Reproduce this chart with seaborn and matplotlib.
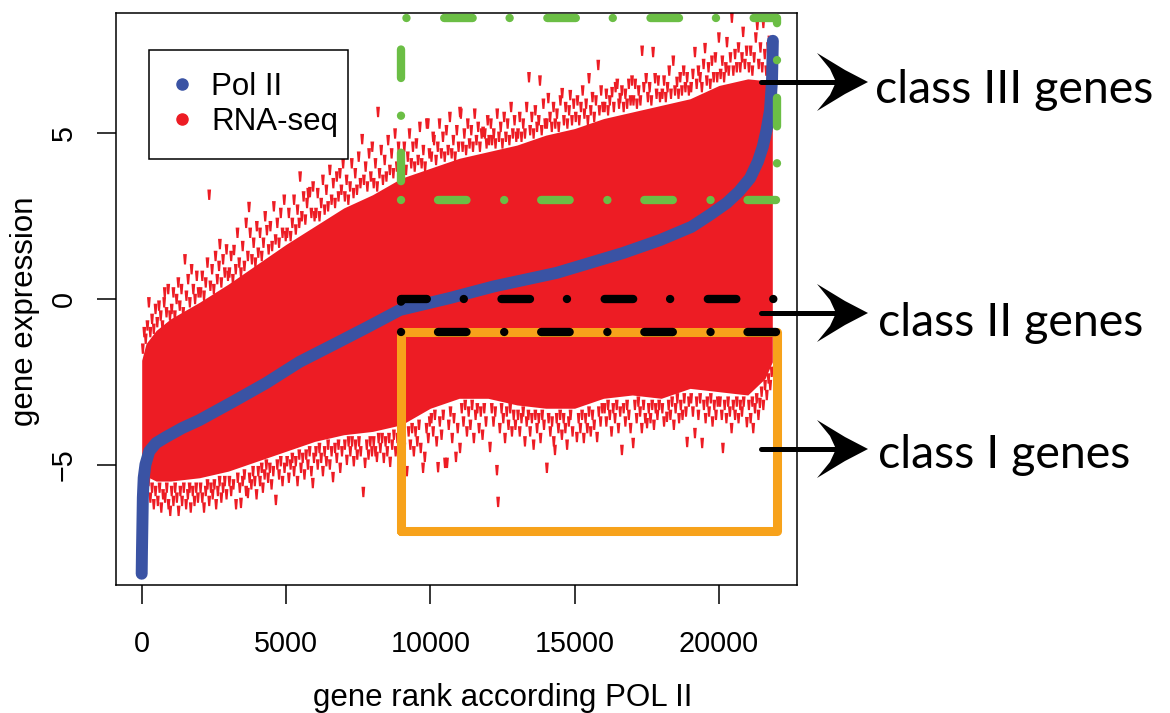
import matplotlib
matplotlib.use("Agg")
import matplotlib.pyplot as plt
import seaborn as sns
from matplotlib.lines import Line2D
from matplotlib.patches import Polygon
from matplotlib.path import Path

sns.set_style("white")
plt.rcParams['font.family'] = ['Liberation Sans', 'DejaVu Sans']
plt.rcParams['text.color'] = 'black'
plt.rcParams['axes.labelcolor'] = 'black'
plt.rcParams['xtick.color'] = 'black'
plt.rcParams['ytick.color'] = 'black'

RED = '#ED1C24'
BLUE = '#3A53A4'
GREEN = '#6BBE45'
ORANGE = '#F7A21B'

# Pol II signal, genes sorted by rank
pol_rank = [0, 10, 25, 40, 70, 130, 263, 500, 842, 1400, 2000, 3150, 4310, 5470,
            6640, 7800, 8950, 10680, 12200, 14380, 16680, 17960, 19050, 19700, 20270,
            20700, 21080, 21350, 21520, 21650, 21770, 21840, 21870]
pol_value = [-8.3, -7.6, -6.8, -6.0, -5.4, -5.0, -4.6, -4.35, -4.17, -3.9, -3.66,
             -3.11, -2.54, -1.9, -1.38, -0.86, -0.33, 0.03, 0.38, 0.79, 1.39, 1.78,
             2.18, 2.55, 2.9, 3.25, 3.65, 4.15, 4.6, 5.1, 5.7, 6.6, 7.8]

# dense core of the RNA-seq cloud (upper / lower envelope)
core_rank = [0, 150, 500, 1000, 2000, 3000, 4000, 5000, 6000, 7000, 8000, 9000,
             10000, 11000, 12000, 13000, 14000, 15000, 16000, 17000, 18000, 19000,
             20000, 21000, 21600, 21850]
core_hi = [-1.85, -1.35, -0.95, -0.6, -0.1, 0.45, 1.05, 1.65, 2.2, 2.75, 3.15, 3.65,
           3.95, 4.25, 4.45, 4.65, 4.95, 5.15, 5.45, 5.65, 5.85, 6.05, 6.45, 6.65,
           6.6, 6.3]
core_lo = [-5.0, -5.35, -5.5, -5.5, -5.4, -5.2, -4.9, -4.6, -4.3, -4.1, -4.0, -3.8,
           -3.3, -3.0, -3.0, -3.2, -3.3, -3.3, -3.0, -2.9, -3.0, -2.7, -2.8, -2.9,
           -2.4, -1.9]

# scattered RNA-seq genes above the core (rank, expression)
rna_upper = [
    (40, -1.5), (90, -1.0), (140, -1.2), (200, -0.8), (250, -0.1), (300, -1.0), (360, -0.6),
    (420, -0.9), (480, -0.3), (540, -0.7), (600, -0.2), (660, -0.5), (720, -0.8), (780, -0.1),
    (800, 0.2), (860, -0.4), (920, 0.3), (980, -0.5),
    (1040, -0.3), (1100, 0.2), (1150, -0.5), (1210, 0.0), (1270, 0.5), (1320, -0.2), (1380, 0.3),
    (1440, -0.4), (1500, 1.2), (1550, 0.1), (1610, 0.6), (1670, -0.1), (1730, 0.9), (1790, 0.3),
    (1850, 0.0), (1910, 0.7), (1970, 0.2),
    (2040, 0.2), (2100, 0.7), (2160, 0.1), (2220, 0.5), (2280, 1.1), (2340, 3.15), (2380, 0.4),
    (2440, 0.9), (2500, 0.3), (2560, 1.3), (2620, 0.6), (2680, 1.0), (2710, 1.66), (2760, 0.5),
    (2820, 1.2), (2880, 0.8), (2940, 1.5), (2990, 0.7),
    (3040, 0.8), (3100, 1.3), (3160, 0.6), (3200, 1.48), (3260, 0.9), (3320, 2.0), (3380, 1.1),
    (3440, 0.8), (3500, 1.6), (3560, 1.0), (3620, 2.3), (3680, 1.3), (3720, 2.78), (3760, 2.0),
    (3820, 1.2), (3880, 1.7), (3940, 1.1), (3990, 2.2),
    (4040, 1.4), (4100, 2.0), (4160, 1.3), (4220, 1.7), (4280, 2.5), (4340, 2.08), (4400, 1.5),
    (4460, 2.2), (4520, 1.6), (4580, 2.8), (4640, 1.8), (4700, 2.3), (4760, 1.7), (4820, 2.6),
    (4880, 2.0), (4940, 3.0), (4990, 1.9),
    (5040, 2.0), (5100, 2.6), (5160, 1.9), (5220, 2.3), (5280, 3.0), (5340, 2.1), (5400, 2.7),
    (5460, 2.3), (5490, 3.7), (5550, 2.5), (5610, 3.1), (5670, 2.4), (5730, 2.9), (5770, 3.2),
    (5830, 3.23), (5880, 2.6), (5940, 3.4), (5990, 2.5),
    (6040, 2.6), (6100, 3.2), (6160, 2.5), (6220, 2.9), (6280, 3.6), (6340, 2.7), (6400, 3.3),
    (6460, 2.8), (6520, 3.9), (6580, 3.0), (6640, 3.5), (6700, 2.9), (6760, 3.7), (6820, 3.1),
    (6870, 3.8), (6920, 3.3), (6980, 4.1),
    (7040, 3.1), (7100, 3.6), (7160, 3.0), (7220, 3.4), (7280, 4.1), (7340, 3.2), (7400, 3.8),
    (7460, 3.3), (7520, 4.3), (7580, 3.5), (7640, 4.83), (7700, 3.6), (7760, 4.0), (7820, 3.4),
    (7880, 4.4), (7940, 3.7), (7990, 4.6),
    (8040, 3.5), (8100, 4.1), (8160, 3.4), (8190, 5.65), (8240, 3.8), (8300, 4.5), (8360, 3.6),
    (8420, 4.2), (8480, 3.7), (8540, 4.8), (8600, 3.9), (8660, 4.4), (8720, 3.8), (8780, 5.0),
    (8840, 4.0), (8900, 4.6), (8960, 4.0),
    (9040, 4.0), (9100, 4.6), (9160, 3.9), (9220, 4.3), (9280, 5.0), (9340, 4.1), (9400, 4.6),
    (9460, 4.0), (9520, 4.7), (9580, 4.2), (9640, 5.2), (9700, 4.1), (9760, 4.5), (9820, 4.0),
    (9880, 5.3), (9920, 5.3), (9970, 4.4),
    (10040, 4.3), (10100, 4.9), (10130, 4.8), (10200, 4.2), (10260, 4.6), (10320, 5.3),
    (10380, 4.4), (10440, 4.9), (10500, 4.3), (10560, 5.1), (10620, 4.5), (10680, 5.5),
    (10740, 4.4), (10800, 4.8), (10860, 4.3), (10920, 5.1), (10980, 4.6),
    (11030, 5.65), (11060, 5.6), (11120, 4.6), (11180, 5.0), (11240, 4.5), (11300, 5.3),
    (11360, 4.7), (11420, 5.1), (11480, 4.6), (11540, 5.6), (11600, 4.8), (11660, 5.2),
    (11720, 4.6), (11780, 5.0), (11830, 5.05), (11890, 5.0), (11950, 4.7), (11990, 5.4),
    (12040, 4.8), (12100, 5.3), (12140, 4.8), (12200, 5.0), (12260, 4.7), (12320, 5.6),
    (12380, 4.9), (12440, 5.2), (12500, 4.7), (12560, 5.5), (12620, 4.9), (12680, 5.3),
    (12740, 4.8), (12800, 5.8), (12860, 5.0), (12920, 5.4), (12980, 4.9),
    (13040, 5.0), (13100, 5.5), (13160, 4.9), (13220, 5.3), (13280, 5.0), (13340, 5.8),
    (13420, 6.7), (13460, 5.1), (13520, 5.5), (13580, 5.0), (13640, 5.7), (13700, 5.2),
    (13760, 5.4), (13800, 6.6), (13860, 5.1), (13920, 5.9), (13980, 5.3),
    (14040, 5.3), (14090, 6.07), (14150, 5.5), (14210, 5.2), (14270, 5.8), (14330, 5.3),
    (14390, 5.6), (14450, 5.2), (14510, 6.0), (14570, 6.22), (14630, 5.4), (14690, 5.8),
    (14750, 5.3), (14810, 5.7), (14850, 6.16), (14910, 5.4), (14970, 5.9),
    (15040, 5.5), (15100, 6.0), (15160, 5.4), (15220, 5.8), (15280, 6.3), (15340, 5.6),
    (15400, 5.9), (15460, 5.4), (15500, 6.67), (15560, 5.7), (15620, 6.1), (15680, 5.5),
    (15740, 6.0), (15820, 7.07), (15860, 5.7), (15920, 6.3), (15980, 5.8),
    (16040, 5.8), (16100, 6.2), (16160, 5.7), (16220, 6.0), (16300, 6.25), (16360, 5.8),
    (16420, 6.4), (16480, 6.5), (16540, 5.9), (16580, 6.07), (16640, 6.3), (16700, 5.8),
    (16760, 6.2), (16820, 5.9), (16880, 6.5), (16940, 6.0), (16990, 6.6),
    (17040, 6.0), (17100, 6.5), (17160, 5.9), (17220, 6.3), (17280, 6.0), (17340, 7.5),
    (17400, 6.4), (17480, 6.67), (17540, 6.1), (17600, 6.4), (17660, 6.0), (17720, 7.46),
    (17790, 6.67), (17840, 6.2), (17900, 6.6), (17960, 6.1),
    (18040, 6.2), (18100, 6.6), (18160, 6.1), (18220, 6.4), (18280, 6.9), (18340, 6.2),
    (18420, 7.2), (18480, 6.3), (18550, 6.56), (18600, 6.2), (18660, 6.7), (18720, 6.3),
    (18780, 6.9), (18840, 6.4), (18900, 6.7), (18960, 6.3),
    (19040, 6.4), (19100, 6.8), (19170, 7.46), (19230, 6.5), (19290, 6.9), (19350, 6.7),
    (19410, 6.4), (19470, 7.1), (19520, 7.58), (19580, 6.6), (19640, 7.0), (19700, 6.5),
    (19760, 7.2), (19820, 6.7), (19880, 7.3), (19940, 6.7),
    (20000, 7.9), (20060, 6.8), (20120, 7.2), (20180, 6.7), (20240, 7.0), (20280, 7.76),
    (20340, 6.9), (20400, 7.3), (20450, 8.5), (20500, 6.9), (20560, 7.4), (20620, 7.0),
    (20680, 7.6), (20740, 7.0), (20800, 7.3), (20840, 8.07), (20900, 7.1), (20960, 7.5),
    (21040, 7.0), (21100, 7.5), (21160, 6.9), (21220, 7.3), (21280, 7.9), (21330, 8.28),
    (21380, 7.1), (21440, 7.6), (21500, 7.0), (21540, 8.34), (21590, 7.4), (21640, 6.9),
    (21700, 7.6), (21750, 7.8), (21800, 6.9), (21840, 7.3),
]

# scattered RNA-seq genes below the core (rank, expression)
rna_lower = [
    (60, -5.4), (120, -5.7), (180, -5.9), (240, -5.5), (300, -6.0), (360, -5.7), (420, -6.2),
    (480, -5.8), (560, -6.1), (620, -5.7), (680, -6.3), (740, -5.9), (810, -6.0), (870, -5.7),
    (930, -6.2), (990, -6.4),
    (1040, -5.8), (1100, -6.1), (1160, -5.7), (1220, -6.0), (1280, -6.4), (1340, -5.8),
    (1400, -6.1), (1460, -5.7), (1540, -6.2), (1600, -5.9), (1660, -5.7), (1700, -6.3),
    (1770, -5.8), (1830, -6.1), (1890, -5.7), (1950, -6.0),
    (2040, -5.7), (2100, -6.0), (2160, -6.3), (2220, -5.8), (2280, -5.6), (2340, -6.1),
    (2400, -5.7), (2460, -5.9), (2520, -5.6), (2580, -6.2), (2640, -5.8), (2700, -5.5),
    (2760, -6.0), (2820, -5.7), (2880, -5.5), (2940, -5.9),
    (3040, -5.5), (3100, -5.8), (3180, -5.6), (3270, -6.2), (3330, -5.4), (3400, -5.7),
    (3440, -6.16), (3500, -5.5), (3560, -5.3), (3620, -5.8), (3680, -5.86), (3740, -5.4),
    (3800, -5.6), (3860, -5.2), (3920, -5.5), (3980, -5.9),
    (4040, -5.2), (4100, -5.5), (4160, -5.1), (4200, -5.7), (4260, -5.3), (4320, -5.0),
    (4380, -5.4), (4440, -5.1), (4500, -5.6), (4560, -5.2), (4650, -6.07), (4700, -5.0),
    (4760, -5.3), (4820, -4.9), (4880, -5.5), (4950, -5.1),
    (5040, -4.9), (5100, -5.4), (5160, -5.0), (5220, -4.8), (5280, -5.2), (5340, -4.9),
    (5400, -5.5), (5460, -4.7), (5520, -5.1), (5580, -4.8), (5640, -5.3), (5700, -4.7),
    (5760, -5.0), (5820, -4.6), (5880, -5.2), (5930, -5.56), (5970, -4.8),
    (6040, -4.6), (6100, -5.0), (6160, -4.5), (6220, -4.8), (6280, -5.2), (6340, -4.6),
    (6400, -4.9), (6460, -4.4), (6520, -5.0), (6580, -4.6), (6630, -5.38), (6700, -4.5),
    (6760, -4.8), (6820, -4.4), (6880, -5.1), (6940, -4.6),
    (7040, -4.4), (7110, -4.86), (7170, -4.3), (7230, -4.6), (7290, -4.3), (7350, -4.9),
    (7410, -4.4), (7470, -4.7), (7530, -4.3), (7590, -4.6), (7680, -5.83), (7740, -4.95),
    (7800, -4.4), (7860, -4.7), (7920, -4.3), (7980, -4.6),
    (8040, -4.3), (8100, -4.6), (8150, -4.77), (8210, -4.2), (8270, -4.5), (8330, -4.2),
    (8390, -4.8), (8450, -4.3), (8510, -4.6), (8570, -4.2), (8610, -4.92), (8680, -4.4),
    (8740, -4.1), (8800, -4.6), (8860, -4.2), (8920, -4.5), (8980, -4.1),
    (9040, -4.1), (9100, -4.5), (9190, -5.2), (9250, -4.0), (9310, -4.4), (9370, -3.9),
    (9430, -4.6), (9490, -4.0), (9550, -4.3), (9610, -3.8), (9670, -4.5), (9750, -5.1),
    (9810, -4.77), (9870, -3.9), (9930, -4.2), (9980, -3.7),
    (10040, -3.6), (10100, -4.0), (10160, -3.5), (10220, -4.3), (10270, -5.08), (10330, -3.7),
    (10390, -4.1), (10450, -3.5), (10510, -4.95), (10580, -4.95), (10640, -3.8), (10700, -3.4),
    (10760, -4.2), (10820, -3.6), (10890, -4.77), (10950, -3.9),
    (11030, -4.5), (11090, -3.3), (11150, -3.7), (11210, -3.2), (11270, -4.0), (11330, -3.4),
    (11390, -3.8), (11450, -3.2), (11510, -4.2), (11570, -3.5), (11630, -3.3), (11690, -3.9),
    (11750, -3.4), (11810, -4.1), (11870, -3.3), (11930, -3.7),
    (12070, -4.47), (12130, -3.3), (12190, -3.7), (12250, -3.4), (12310, -5.17), (12350, -6.13),
    (12410, -3.9), (12470, -3.3), (12530, -3.6), (12590, -4.2), (12650, -3.4), (12710, -3.8),
    (12770, -3.3), (12830, -4.0), (12890, -3.5), (12950, -3.8),
    (13040, -3.5), (13100, -4.0), (13160, -3.6), (13220, -3.4), (13280, -4.3), (13340, -3.7),
    (13400, -3.5), (13460, -4.0), (13520, -3.6), (13580, -4.4), (13640, -3.5), (13700, -3.9),
    (13760, -3.6), (13820, -4.2), (13880, -3.5), (13940, -3.8),
    (14040, -5.1), (14100, -3.6), (14160, -4.0), (14220, -3.7), (14280, -4.3), (14320, -4.56),
    (14380, -3.6), (14440, -3.9), (14500, -3.5), (14560, -4.1), (14620, -3.6), (14680, -3.9),
    (14740, -4.4), (14800, -3.7), (14860, -3.5), (14930, -4.0),
    (15080, -4.17), (15140, -3.6), (15200, -3.9), (15260, -3.5), (15320, -4.2), (15380, -3.6),
    (15440, -3.9), (15500, -3.4), (15560, -4.0), (15620, -3.5), (15680, -3.8), (15780, -4.17),
    (15840, -3.4), (15900, -3.7), (15960, -3.3),
    (16040, -3.3), (16100, -3.7), (16160, -3.2), (16220, -3.5), (16280, -4.0), (16340, -3.3),
    (16400, -3.6), (16460, -3.2), (16520, -3.9), (16580, -3.4), (16640, -4.56), (16700, -3.3),
    (16760, -3.7), (16820, -3.2), (16880, -3.5), (16940, -3.9),
    (17030, -4.35), (17090, -3.2), (17150, -3.6), (17210, -3.1), (17270, -3.4), (17330, -3.9),
    (17390, -3.2), (17450, -3.6), (17510, -3.75), (17570, -3.3), (17630, -3.6), (17690, -3.2),
    (17750, -3.8), (17810, -3.3), (17870, -3.5), (17930, -3.2),
    (18040, -3.3), (18100, -3.7), (18200, -3.56), (18260, -3.2), (18320, -3.5), (18380, -3.1),
    (18440, -3.8), (18500, -3.3), (18560, -3.0), (18620, -3.6), (18680, -3.2), (18740, -3.5),
    (18800, -3.0), (18860, -3.4), (18900, -4.32), (18960, -3.1),
    (19040, -3.0), (19100, -3.4), (19170, -4.05), (19230, -3.1), (19290, -3.5), (19350, -3.0),
    (19420, -4.35), (19480, -3.2), (19540, -3.6), (19600, -3.1), (19660, -3.4), (19720, -3.0),
    (19780, -3.7), (19840, -3.2), (19900, -3.5), (19960, -3.1),
    (20040, -3.1), (20100, -3.5), (20140, -4.5), (20200, -3.2), (20260, -3.6), (20320, -3.1),
    (20380, -3.4), (20440, -3.9), (20500, -3.2), (20560, -3.5), (20620, -3.1), (20680, -3.6),
    (20740, -3.2), (20800, -3.4), (20860, -3.1), (20970, -3.72),
    (21040, -3.2), (21100, -3.6), (21160, -3.1), (21190, -3.9), (21250, -3.3), (21310, -3.0),
    (21370, -3.5), (21420, -3.14), (21480, -2.8), (21540, -3.2), (21600, -2.6), (21660, -2.9),
    (21720, -2.4), (21780, -2.6), (21830, -2.2),
]

# gene classes: rank range and expression range of each box
class_rank = [9000, 22000]
class3_expr = [3, 8.5]
class2_expr = [-1, 0]
class1_expr = [-7, -1]
class_labels = ['class III genes', 'class II genes', 'class I genes']

xticks = [0, 5000, 10000, 15000, 20000]
yticks = [-5, 0, 5]

W, H = 1170, 713
fig = plt.figure(figsize=(W / 100, H / 100), dpi=100)
ax = fig.add_axes([116 / W, 1 - 585 / H, (797 - 116) / W, (585 - 13) / H])


def box(x, y):
    # R rect(): bottom-left -> bottom-right -> top-right -> top-left -> close
    return [x[0], x[1], x[1], x[0], x[0]], [y[0], y[0], y[1], y[1], y[0]]


# RNA-seq cloud
ax.fill_between(core_rank, core_lo, core_hi, color=RED, lw=0, zorder=1)
tick_mark = Path([(-0.18, 0.5), (0.18, 0.5), (0.1, -0.5), (-0.1, -0.5), (-0.18, 0.5)],
                 [Path.MOVETO, Path.LINETO, Path.LINETO, Path.LINETO, Path.CLOSEPOLY])
pts = rna_upper + rna_lower
sns.scatterplot(x=[p[0] for p in pts], y=[p[1] for p in pts], marker=tick_mark, s=56,
                color=RED, linewidth=0, edgecolor='none', ax=ax, zorder=1.5, legend=False)

# Pol II curve
sns.lineplot(x=pol_rank, y=pol_value, color=BLUE, lw=8.6, sort=False, estimator=None,
             solid_capstyle='round', solid_joinstyle='round', ax=ax, zorder=2)

# class boxes
dotdash = (0.01, 4.43, 3.42, 4.52)
bx, by = box(class_rank, class1_expr)
ax.plot(bx, by, color=ORANGE, lw=6.5, solid_joinstyle='round', solid_capstyle='round', zorder=3)
bx, by = box(class_rank, class2_expr)
ax.plot(bx, by, color='black', lw=6, dashes=dotdash, dash_capstyle='round', zorder=4)
bx, by = box(class_rank, class3_expr)
ax.plot(bx, by, color=GREEN, lw=6, dashes=dotdash, dash_capstyle='round', zorder=5)

ax.set_xlim(-890, 22706)
ax.set_ylim(-8.64, 8.64)
ax.set_xticks(xticks)
ax.set_yticks(yticks)
ax.tick_params(axis='both', direction='out', length=13.7, width=1.1, labelsize=20.7,
               colors='black', bottom=True, left=True)
ax.tick_params(axis='x', pad=19)
ax.tick_params(axis='y', pad=13.7, labelrotation=90)
for lab in ax.get_yticklabels():
    lab.set_va('center')
for sp in ax.spines.values():
    sp.set_linewidth(1.1)
    sp.set_color('black')

ax.set_xlabel('gene rank according POL II', fontsize=22.5)
ax.set_ylabel('gene expression', fontsize=22.5)
ax.xaxis.set_label_coords(0.568, -0.172)
ax.yaxis.set_label_coords(-0.112, 0.479)

handles = [Line2D([], [], marker='o', ls='', color=BLUE, markersize=8),
           Line2D([], [], marker='o', ls='', color=RED, markersize=8)]
leg = ax.legend(handles, ['Pol II', 'RNA-seq'], loc='upper left',
                bbox_to_anchor=(0.0485, 0.935, 0.2922, 0.0), mode='expand',
                borderaxespad=0, fontsize=22.5, handlelength=0.7, handletextpad=0.58,
                borderpad=0.7, labelspacing=0.16, fancybox=False, framealpha=1,
                edgecolor='black', labelcolor='black')
leg.get_frame().set_linewidth(1.1)


# arrows and class names outside the plot
def fx(px):
    return px / W


def fy(py):
    return 1 - py / H


arrow_y = [82, 313, 449]
text_x = [875, 878, 878]
text_base = [103, 336, 468]
for y, tx, tb, lab in zip(arrow_y, text_x, text_base, class_labels):
    fig.add_artist(Line2D([fx(761), fx(840)], [fy(y), fy(y)], color='black', lw=3.6,
                          transform=fig.transFigure, zorder=10))
    head = [(868, y), (845, y - 12), (817, y - 29), (830, y - 13), (836, y),
            (830, y + 13), (817, y + 29), (845, y + 12)]
    fig.add_artist(Polygon([(fx(a), fy(b)) for a, b in head], closed=True,
                           color='black', lw=0, transform=fig.transFigure, zorder=10))
    fig.text(fx(tx), fy(tb), lab, fontsize=33.5, family='Lato', va='baseline', ha='left')

fig.savefig('out.png', dpi=100)
